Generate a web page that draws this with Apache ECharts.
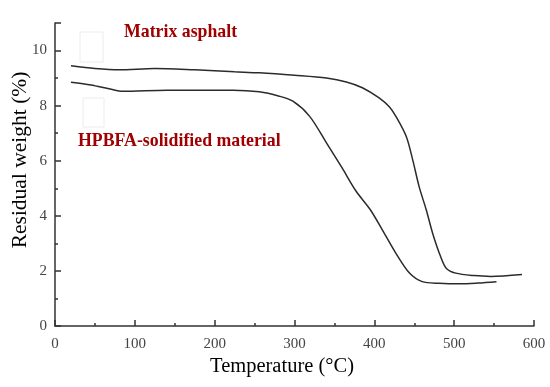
<!DOCTYPE html>
<html>
<head>
<meta charset="utf-8">
<script src="https://cdn.jsdelivr.net/npm/echarts@6/dist/echarts.min.js"></script>
<style>html,body{margin:0;padding:0;background:#fff;}#c{width:550px;height:387px;}</style>
</head>
<body>
<div id="c"></div>
<script>
const xTicks = [0, 100, 200, 300, 400, 500, 600];
const yTicks = [0, 2, 4, 6, 8, 10];
const xTitle = 'Temperature (°C)';
const yTitle = 'Residual weight (%)';
const matrixName = 'Matrix asphalt';
const matrixTemp = [20, 50, 80, 125, 175, 225, 256, 300, 340, 365, 385, 406, 419, 427, 440, 448, 456, 465, 473, 483, 490, 502, 525, 546, 585];
const matrixWeight = [9.45, 9.35, 9.3, 9.35, 9.3, 9.23, 9.19, 9.1, 9.0, 8.86, 8.65, 8.28, 7.95, 7.61, 6.88, 6.04, 5.07, 4.22, 3.37, 2.52, 2.1, 1.92, 1.83, 1.8, 1.87];
const hpbfaName = 'HPBFA-solidified material';
const hpbfaTemp = [20, 45, 69, 85, 140, 223, 256, 280, 298, 319, 340, 360, 377, 395, 410, 427, 444, 460, 481, 508, 530, 553];
const hpbfaWeight = [8.85, 8.75, 8.6, 8.52, 8.56, 8.56, 8.5, 8.35, 8.16, 7.61, 6.65, 5.72, 4.9, 4.22, 3.49, 2.64, 1.92, 1.61, 1.55, 1.53, 1.56, 1.61];

const serif = 'Liberation Serif';
const chart = echarts.init(document.getElementById('c'), null, {renderer: 'canvas'});
const pair = (xs, ys) => xs.map((x, i) => [x, ys[i]]);
chart.setOption({
  backgroundColor: '#fff',
  animation: false,
  grid: {left: 55, right: 16, top: 23, bottom: 61, containLabel: false},
  xAxis: {
    type: 'value', min: 0, max: 600, interval: 100,
    axisLine: {show: true, onZero: false, lineStyle: {color: '#333', width: 1.5}},
    axisTick: {show: true, inside: true, length: 6, lineStyle: {color: '#333', width: 1.5}},
    minorTick: {show: true, splitNumber: 2, length: 3, lineStyle: {color: '#333', width: 1.5}},
    axisLabel: {fontFamily: serif, fontSize: 15, color: '#444', margin: 11,
      formatter: v => xTicks.includes(v) ? String(v) : ''},
    splitLine: {show: false}
  },
  yAxis: {
    type: 'value', min: 0, max: 11, interval: 2,
    axisLine: {show: true, onZero: false, lineStyle: {color: '#333', width: 1.5}},
    axisTick: {show: true, inside: true, length: 6, lineStyle: {color: '#333', width: 1.5}},
    minorTick: {show: true, splitNumber: 2, length: 3, lineStyle: {color: '#333', width: 1.5}},
    axisLabel: {fontFamily: serif, fontSize: 15, color: '#444', margin: 8, showMaxLabel: false,
      formatter: v => yTicks.includes(v) ? String(v) : ''},
    splitLine: {show: false}
  },
  series: [
    {name: matrixName, type: 'line', data: pair(matrixTemp, matrixWeight), smooth: 0.3, symbol: 'none',
     lineStyle: {color: '#2b2b2b', width: 1.5}},
    {name: hpbfaName, type: 'line', data: pair(hpbfaTemp, hpbfaWeight), smooth: 0.3, symbol: 'none',
     lineStyle: {color: '#2b2b2b', width: 1.5}}
  ],
  graphic: [
    {type: 'rect', shape: {x: 80, y: 32, width: 23, height: 30}, style: {fill: 'none', stroke: '#ececec', lineWidth: 1}},
    {type: 'rect', shape: {x: 83, y: 98, width: 21, height: 29}, style: {fill: 'none', stroke: '#ececec', lineWidth: 1}},
    {type: 'text', left: 124, top: 23, style: {text: matrixName, fontFamily: serif, fontWeight: 'bold', fontSize: 17.8, fill: '#a00000'}},
    {type: 'text', left: 78, top: 132, style: {text: hpbfaName, fontFamily: serif, fontWeight: 'bold', fontSize: 17.8, fill: '#a00000'}},
    {type: 'text', x: 282, y: 367,
     style: {text: xTitle, fontFamily: serif, fontSize: 20.5, fill: '#000', textAlign: 'center', textVerticalAlign: 'middle'}},
    {type: 'text', x: 20, y: 160, rotation: Math.PI / 2,
     style: {text: yTitle, fontFamily: serif, fontSize: 21.5, fill: '#000', textAlign: 'center', textVerticalAlign: 'middle'}}
  ]
});
</script>
</body>
</html>
